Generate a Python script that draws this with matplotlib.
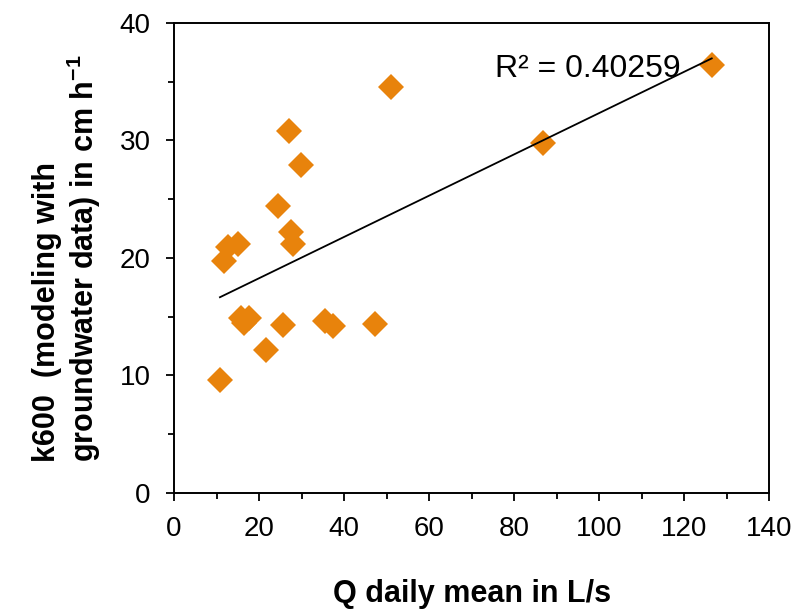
import numpy as np
import matplotlib
matplotlib.use("Agg")
import matplotlib.pyplot as plt
from matplotlib.ticker import MultipleLocator

# Q daily mean (L/s) vs k600 (cm/h)
q_daily = [27.1, 29.9, 24.4, 27.5, 27.9, 15.1, 12.8, 11.8, 15.8, 17.6,
           16.5, 25.7, 35.5, 37.5, 47.2, 21.6, 10.8, 51.1, 86.9, 126.5]
k600 = [30.75, 27.9, 24.4, 22.2, 21.2, 21.2, 20.95, 19.7, 14.9, 14.9,
        14.45, 14.3, 14.6, 14.2, 14.4, 12.15, 9.6, 34.5, 29.8, 36.4]
r2_label = "R² = 0.40259"

plt.rcParams["font.family"] = ["Liberation Sans", "DejaVu Sans"]
plt.rcParams["mathtext.fontset"] = "custom"
plt.rcParams["mathtext.rm"] = "Liberation Sans"
plt.rcParams["mathtext.bf"] = "Liberation Sans:bold"

fig = plt.figure(figsize=(8.02, 6.16), dpi=100)
ax = fig.add_axes([0.217, 0.2, 0.742, 0.763])

x = np.array(q_daily)
y = np.array(k600)
ax.plot(x, y, linestyle="none", marker="D", markersize=13,
        color="#E8830C", markeredgewidth=0, zorder=2)

# linear trendline over the data range
slope, intercept = np.polyfit(x, y, 1)
xs = np.array([x.min(), x.max()])
ax.plot(xs, slope * xs + intercept, color="black", lw=1.3, zorder=3)

ax.text(75.5, 36.1, r2_label, fontsize=23, va="center", ha="left")

ax.set_xlim(0, 140)
ax.set_ylim(0, 40)
ax.xaxis.set_major_locator(MultipleLocator(20))
ax.xaxis.set_minor_locator(MultipleLocator(10))
ax.yaxis.set_major_locator(MultipleLocator(10))
ax.yaxis.set_minor_locator(MultipleLocator(5))
ax.tick_params(which="major", direction="out", length=6, width=1.3,
               labelsize=20, pad=11)
ax.tick_params(which="minor", direction="out", length=4.5, width=1.3)
for s in ax.spines.values():
    s.set_linewidth(1.4)

ax.set_xlabel("Q daily mean in L/s", fontsize=22, fontweight="bold", labelpad=26)
ax.set_ylabel("k600  (modeling with\ngroundwater data) in cm h$\\mathbf{^{-1}}$",
              fontsize=22, fontweight="bold", labelpad=12, multialignment="left",
              linespacing=1.1)

fig.savefig("out.png", dpi=100)
